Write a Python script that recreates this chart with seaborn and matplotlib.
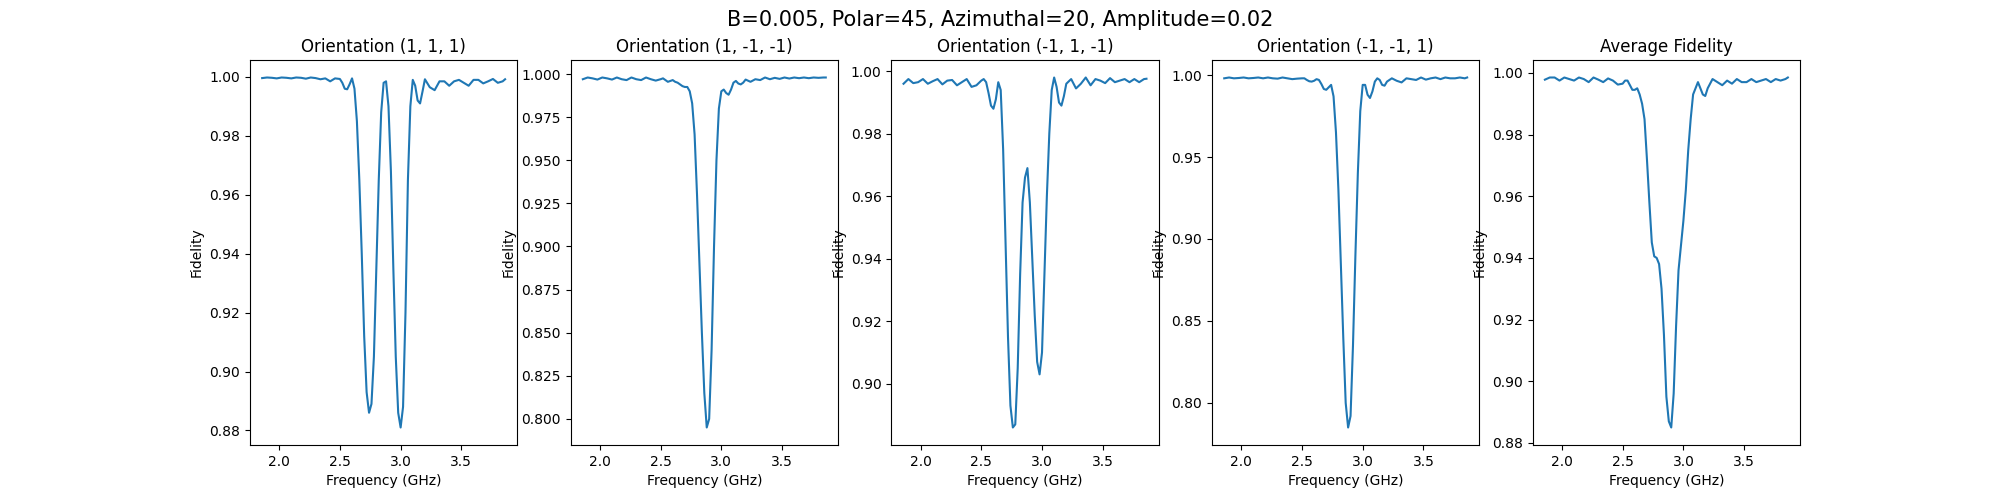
import matplotlib
matplotlib.use("Agg")
import matplotlib.pyplot as plt
import seaborn as sns
import pandas as pd

freq = [1.86, 1.90, 1.94, 1.98, 2.02, 2.06, 2.10, 2.14, 2.18, 2.22, 2.26, 2.30, 2.34, 2.38, 2.42, 2.46, 2.50,
        2.52, 2.54, 2.56, 2.58, 2.60, 2.62, 2.64, 2.66, 2.68, 2.70, 2.72, 2.74, 2.76, 2.78, 2.80, 2.82, 2.84,
        2.86, 2.88, 2.90, 2.92, 2.94, 2.96, 2.98, 3.00, 3.02, 3.04, 3.06, 3.08, 3.10, 3.12, 3.14, 3.16, 3.18, 3.20,
        3.24, 3.28, 3.32, 3.36, 3.40, 3.44, 3.48, 3.52, 3.56, 3.60, 3.64, 3.68, 3.72, 3.76, 3.80, 3.84, 3.86]

fid_111 = [0.9996, 0.9998, 0.9997, 0.9995, 0.9998, 0.9997, 0.9995, 0.9998, 0.9997, 0.9994, 0.9998, 0.9996, 0.9992, 0.9995, 0.9985, 0.9995, 0.9993,
           0.9980, 0.9960, 0.9958, 0.9975, 0.9995, 0.9960, 0.9850, 0.9650, 0.9400, 0.9120, 0.8930, 0.8860, 0.8890, 0.9050, 0.9350, 0.9650, 0.9880,
           0.9980, 0.9985, 0.9900, 0.9680, 0.9350, 0.9050, 0.8860, 0.8810, 0.8880, 0.9200, 0.9650, 0.9900, 0.9990, 0.9970, 0.9920, 0.9910, 0.9950, 0.9992,
           0.9965, 0.9955, 0.9985, 0.9985, 0.9970, 0.9985, 0.9990, 0.9980, 0.9970, 0.9990, 0.9990, 0.9978, 0.9985, 0.9993, 0.9980, 0.9985, 0.9992]

fid_1m1m1 = [0.9970, 0.9980, 0.9975, 0.9968, 0.9980, 0.9975, 0.9968, 0.9980, 0.9970, 0.9965, 0.9980, 0.9970, 0.9965, 0.9980, 0.9970, 0.9962, 0.9970,
             0.9975, 0.9965, 0.9955, 0.9960, 0.9965, 0.9955, 0.9950, 0.9940, 0.9930, 0.9925, 0.9925, 0.9900, 0.9830, 0.9650, 0.9300, 0.8900, 0.8500,
             0.8150, 0.7950, 0.8000, 0.8400, 0.9000, 0.9500, 0.9800, 0.9900, 0.9910, 0.9890, 0.9880, 0.9910, 0.9950, 0.9960, 0.9945, 0.9940, 0.9950, 0.9968,
             0.9955, 0.9970, 0.9965, 0.9980, 0.9970, 0.9978, 0.9972, 0.9980, 0.9974, 0.9980, 0.9976, 0.9980, 0.9976, 0.9980, 0.9978, 0.9980, 0.9980]

fid_m11m1 = [0.9960, 0.9975, 0.9962, 0.9965, 0.9975, 0.9960, 0.9968, 0.9975, 0.9958, 0.9970, 0.9972, 0.9955, 0.9965, 0.9975, 0.9950, 0.9955, 0.9970,
             0.9975, 0.9965, 0.9930, 0.9890, 0.9880, 0.9910, 0.9965, 0.9940, 0.9750, 0.9450, 0.9150, 0.8930, 0.8860, 0.8870, 0.9050, 0.9350, 0.9580,
             0.9660, 0.9690, 0.9580, 0.9400, 0.9220, 0.9070, 0.9030, 0.9100, 0.9350, 0.9600, 0.9800, 0.9940, 0.9980, 0.9950, 0.9900, 0.9890, 0.9920, 0.9960,
             0.9975, 0.9945, 0.9960, 0.9980, 0.9955, 0.9975, 0.9970, 0.9962, 0.9978, 0.9965, 0.9970, 0.9975, 0.9965, 0.9975, 0.9965, 0.9975, 0.9976]

fid_m1m11 = [0.9980, 0.9985, 0.9980, 0.9982, 0.9985, 0.9980, 0.9982, 0.9985, 0.9980, 0.9985, 0.9980, 0.9978, 0.9985, 0.9980, 0.9975, 0.9978, 0.9980,
             0.9980, 0.9970, 0.9962, 0.9960, 0.9965, 0.9975, 0.9970, 0.9945, 0.9915, 0.9910, 0.9925, 0.9940, 0.9870, 0.9650, 0.9300, 0.8850, 0.8400,
             0.8000, 0.7850, 0.7920, 0.8350, 0.8900, 0.9400, 0.9780, 0.9940, 0.9940, 0.9880, 0.9860, 0.9900, 0.9960, 0.9980, 0.9970, 0.9940, 0.9935, 0.9960,
             0.9980, 0.9965, 0.9955, 0.9980, 0.9975, 0.9970, 0.9985, 0.9972, 0.9980, 0.9985, 0.9975, 0.9985, 0.9980, 0.9980, 0.9985, 0.9980, 0.9985]

fid_avg = [0.9978, 0.9985, 0.9985, 0.9975, 0.9985, 0.9980, 0.9975, 0.9985, 0.9980, 0.9970, 0.9985, 0.9978, 0.9970, 0.9982, 0.9975, 0.9962, 0.9965,
           0.9975, 0.9975, 0.9960, 0.9945, 0.9945, 0.9950, 0.9930, 0.9900, 0.9850, 0.9720, 0.9580, 0.9450, 0.9405, 0.9400, 0.9380, 0.9300, 0.9150,
           0.8950, 0.8870, 0.8850, 0.8960, 0.9180, 0.9360, 0.9440, 0.9520, 0.9620, 0.9750, 0.9850, 0.9930, 0.9950, 0.9970, 0.9950, 0.9930, 0.9925, 0.9950,
           0.9980, 0.9970, 0.9960, 0.9975, 0.9965, 0.9980, 0.9970, 0.9970, 0.9980, 0.9970, 0.9975, 0.9980, 0.9970, 0.9980, 0.9975, 0.9980, 0.9985]

titles = ["Orientation (1, 1, 1)", "Orientation (1, -1, -1)", "Orientation (-1, 1, -1)",
          "Orientation (-1, -1, 1)", "Average Fidelity"]
series = [fid_111, fid_1m1m1, fid_m11m1, fid_m1m11, fid_avg]

fig, axes = plt.subplots(1, 5, figsize=(20, 5), dpi=100)
for ax, title, vals in zip(axes, titles, series):
    df = pd.DataFrame({"Frequency (GHz)": freq, "Fidelity": vals})
    sns.lineplot(data=df, x="Frequency (GHz)", y="Fidelity", ax=ax, color="#1f77b4")
    ax.set_title(title)
    ax.set_xticks([2.0, 2.5, 3.0, 3.5])
fig.suptitle("B=0.005, Polar=45, Azimuthal=20, Amplitude=0.02", fontsize=15)
fig.savefig("out.png")
